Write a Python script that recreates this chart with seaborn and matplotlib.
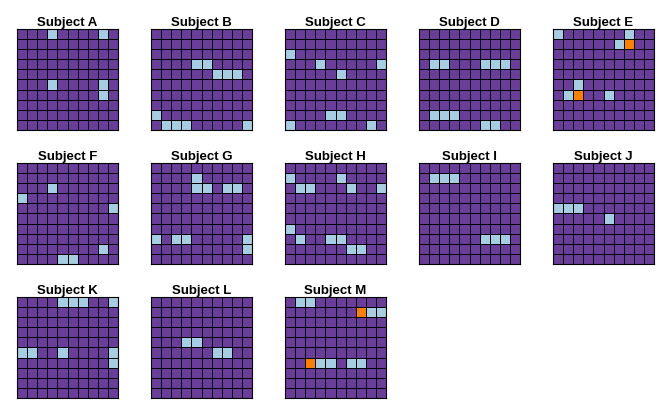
import numpy as np
import pandas as pd
import matplotlib
matplotlib.use("Agg")
import matplotlib.pyplot as plt
import seaborn as sns
from matplotlib.colors import ListedColormap

sns.set_style("white")
plt.rcParams['font.family'] = ['Liberation Sans', 'DejaVu Sans']
plt.rcParams['text.color'] = 'black'

# cells as (row, col) on a 10x10 grid, 0 = background, 1 = light blue, 2 = orange
subjects = ["Subject A", "Subject B", "Subject C", "Subject D", "Subject E",
            "Subject F", "Subject G", "Subject H", "Subject I", "Subject J",
            "Subject K", "Subject L", "Subject M"]

blue_A = [(0, 3), (0, 8), (5, 3), (5, 8), (6, 8)]
blue_B = [(3, 4), (3, 5), (4, 6), (4, 7), (4, 8), (8, 0), (9, 1), (9, 2), (9, 3), (9, 9)]
blue_C = [(2, 0), (3, 3), (3, 9), (4, 5), (8, 4), (8, 5), (9, 0), (9, 8)]
blue_D = [(3, 1), (3, 2), (3, 6), (3, 7), (3, 8), (8, 1), (8, 2), (8, 3), (9, 6), (9, 7)]
blue_E = [(0, 0), (0, 7), (1, 6), (5, 2), (6, 1), (6, 5)]
blue_F = [(2, 3), (3, 0), (4, 9), (8, 8), (9, 4), (9, 5)]
blue_G = [(1, 4), (2, 4), (2, 5), (2, 7), (2, 8), (7, 0), (7, 2), (7, 3), (7, 9), (8, 9)]
blue_H = [(1, 0), (1, 5), (2, 1), (2, 2), (2, 6), (2, 9), (6, 0), (7, 1), (7, 4), (7, 5),
          (8, 6), (8, 7)]
blue_I = [(1, 1), (1, 2), (1, 3), (7, 6), (7, 7), (7, 8)]
blue_J = [(4, 0), (4, 1), (4, 2), (5, 5)]
blue_K = [(0, 4), (0, 5), (0, 6), (0, 9), (5, 0), (5, 1), (5, 4), (5, 9), (6, 9)]
blue_L = [(4, 3), (4, 4), (5, 6), (5, 7)]
blue_M = [(0, 1), (0, 2), (1, 8), (1, 9), (6, 3), (6, 4), (6, 6), (6, 7)]

orange_E = [(1, 7), (6, 2)]
orange_M = [(1, 7), (6, 2)]

blue_cells = [blue_A, blue_B, blue_C, blue_D, blue_E, blue_F, blue_G,
              blue_H, blue_I, blue_J, blue_K, blue_L, blue_M]
orange_cells = {"Subject E": orange_E, "Subject M": orange_M}

cmap = ListedColormap(["#6a3d9a", "#a6cee3", "#ff7f00"])

W, H = 672, 419
fig = plt.figure(figsize=(W / 100, H / 100), dpi=100)

for i, name in enumerate(subjects):
    grid = np.zeros((10, 10))
    for r, c in blue_cells[i]:
        grid[r, c] = 1
    for r, c in orange_cells.get(name, []):
        grid[r, c] = 2
    df = pd.DataFrame(grid)

    row, col = divmod(i, 5)
    left = 17 + 134 * col
    top = 29 + 134 * row
    ax = fig.add_axes([left / W, 1 - (top + 101) / H, 101 / W, 101 / H])
    sns.heatmap(df, ax=ax, cmap=cmap, vmin=0, vmax=2, cbar=False,
                linewidths=0.6, linecolor="black", square=False,
                xticklabels=False, yticklabels=False)
    ax.set_title(name, fontsize=9.5, fontweight="bold", pad=2, color="black")
    for s in ax.spines.values():
        s.set_visible(True)
        s.set_color("black")
        s.set_linewidth(0.8)

fig.savefig("out.png", dpi=100)
